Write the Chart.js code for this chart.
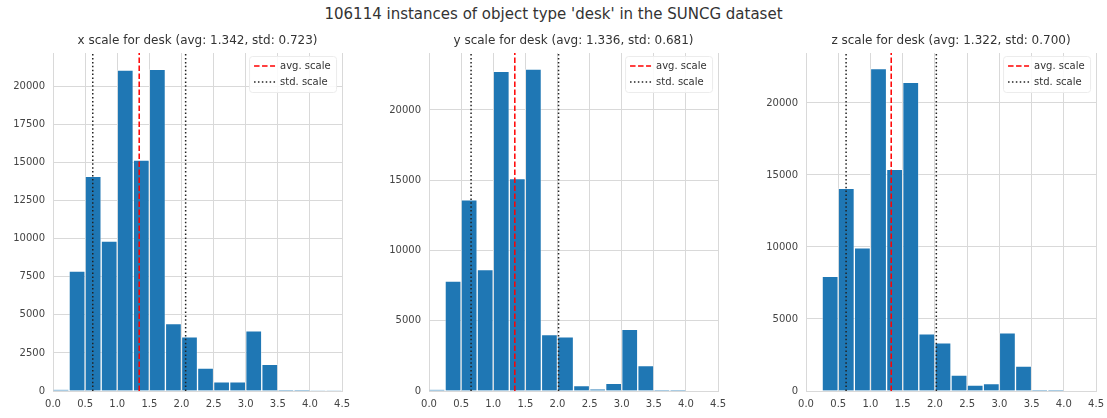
<!DOCTYPE html>
<html>
<head>
<meta charset="utf-8">
<script src="https://cdn.jsdelivr.net/npm/chart.js@4.4.0/dist/chart.umd.min.js"></script>
<style>
  body { margin: 0; background: #fff; width: 1107px; height: 418px; position: relative; overflow: hidden; font-family: "DejaVu Sans", sans-serif; }
  #title { position: absolute; top: 5px; left: 0; width: 1107px; text-align: center; font-size: 15px; color: #333; }
  .box { position: absolute; top: 28px; width: 354px; height: 390px; }
</style>
</head>
<body>
<div id="title">106114 instances of object type 'desk' in the SUNCG dataset</div>
<div class="box" style="left:3px"><canvas id="c0"></canvas></div>
<div class="box" style="left:379px"><canvas id="c1"></canvas></div>
<div class="box" style="left:756px; width:355px"><canvas id="c2"></canvas></div>
<script>
// histogram bins (centres, width 0.25)
const binCenters = [0.125, 0.375, 0.625, 0.875, 1.125, 1.375, 1.625, 1.875, 2.125,
                    2.375, 2.625, 2.875, 3.125, 3.375, 3.625, 3.875, 4.125, 4.375];

const xCounts = [80, 7880, 14100, 9840, 21070, 15170, 21130, 4430, 3560, 1510, 610, 610, 3950, 1750, 50, 50, 30, 30];
const yCounts = [80, 7830, 13610, 8640, 22740, 15120, 22910, 4020, 3860, 380, 120, 545, 4380, 1800, 60, 50, 0, 0];
const zCounts = [0, 7960, 14080, 9940, 22380, 15390, 21430, 3970, 3350, 1110, 415, 510, 4040, 1730, 60, 50, 0, 0];

const axisNames = ["x", "y", "z"];
const avgs = [1.342, 1.336, 1.322];
const stds = [0.723, 0.681, 0.700];
const yMaxes = [22200, 24050, 23470];
const ySteps = [2500, 5000, 5000];

const counts = [xCounts, yCounts, zCounts];

// subplot title centred over the plot area + legend inside, upper right
const innerDecor = {
  id: "innerDecor",
  afterDraw(chart) {
    const ctx = chart.ctx;
    const a = chart.chartArea;
    ctx.save();
    ctx.fillStyle = "#333";
    ctx.font = "12px 'DejaVu Sans'";
    ctx.textAlign = "center";
    ctx.textBaseline = "middle";
    ctx.fillText(chart.options.plugins.subTitle, (a.left + a.right) / 2, a.top - 12);

    const w = 87, h = 36;
    const x = a.right - w - 6, y = a.top + 3;
    ctx.fillStyle = "rgba(255,255,255,0.85)";
    ctx.strokeStyle = "#ececec";
    ctx.lineWidth = 1;
    ctx.beginPath();
    ctx.roundRect(x + 0.5, y + 0.5, w, h, 3);
    ctx.fill();
    ctx.stroke();
    const rows = [
      { label: "avg. scale", color: "#ff0000", dash: [5.5, 2.5] },
      { label: "std. scale", color: "#222", dash: [1.5, 2.4] }
    ];
    rows.forEach((r, i) => {
      const ly = y + 10 + i * 16;
      ctx.strokeStyle = r.color;
      ctx.lineWidth = 1.5;
      ctx.setLineDash(r.dash);
      ctx.beginPath();
      ctx.moveTo(x + 5, ly);
      ctx.lineTo(x + 26, ly);
      ctx.stroke();
      ctx.setLineDash([]);
      ctx.fillStyle = "#333";
      ctx.font = "10px 'DejaVu Sans'";
      ctx.textAlign = "left";
      ctx.fillText(r.label, x + 31, ly);
    });
    ctx.restore();
  }
};

function vline(value, top, color, dash) {
  return {
    type: "line",
    data: [{ x: value, y: 0 }, { x: value, y: top }],
    borderColor: color,
    borderWidth: 1.5,
    borderDash: dash,
    pointRadius: 0,
    fill: false
  };
}

for (let i = 0; i < 3; i++) {
  const top = yMaxes[i];
  const step = ySteps[i];
  const bars = binCenters.map((c, k) => ({ x: c, y: counts[i][k] }));

  new Chart(document.getElementById("c" + i), {
    type: "bar",
    data: {
      datasets: [
        vline(avgs[i], top, "#ff0000", [5.5, 2.5]),
        vline(avgs[i] - stds[i], top, "#222", [1.5, 2.4]),
        vline(avgs[i] + stds[i], top, "#222", [1.5, 2.4]),
        {
          type: "bar",
          data: bars,
          backgroundColor: "#1f77b4",
          borderColor: "rgba(255,255,255,0.3)",
          borderWidth: 1,
          barPercentage: 1,
          categoryPercentage: 1
        }
      ]
    },
    options: {
      animation: false,
      responsive: true,
      maintainAspectRatio: false,
      layout: { padding: { top: 25, right: 2 } },
      plugins: {
        legend: { display: false },
        tooltip: { enabled: false },
        subTitle: axisNames[i] + " scale for desk (avg: " + avgs[i].toFixed(3) + ", std: " + stds[i].toFixed(3) + ")"
      },
      scales: {
        x: {
          type: "linear",
          min: 0,
          max: 4.5,
          offset: false,
          grid: { offset: false, color: "#d9d9d9", lineWidth: 1, drawTicks: false },
          border: { color: "#d9d9d9" },
          ticks: {
            stepSize: 0.5,
            padding: 7,
            color: "#444",
            font: { family: "DejaVu Sans", size: 10 },
            callback: v => v.toFixed(1)
          },
          afterFit: s => { s.height = 27; }
        },
        y: {
          min: 0,
          max: top,
          grid: { color: "#d9d9d9", lineWidth: 1, drawTicks: false },
          border: { color: "#d9d9d9" },
          ticks: {
            padding: 8,
            color: "#444",
            font: { family: "DejaVu Sans", size: 10 },
            callback: v => String(v)
          },
          afterBuildTicks: s => {
            const t = [];
            for (let v = 0; v <= top; v += step) t.push({ value: v });
            s.ticks = t;
          },
          afterFit: s => { s.width = 50; }
        }
      }
    },
    plugins: [innerDecor]
  });
}
</script>
</body>
</html>
